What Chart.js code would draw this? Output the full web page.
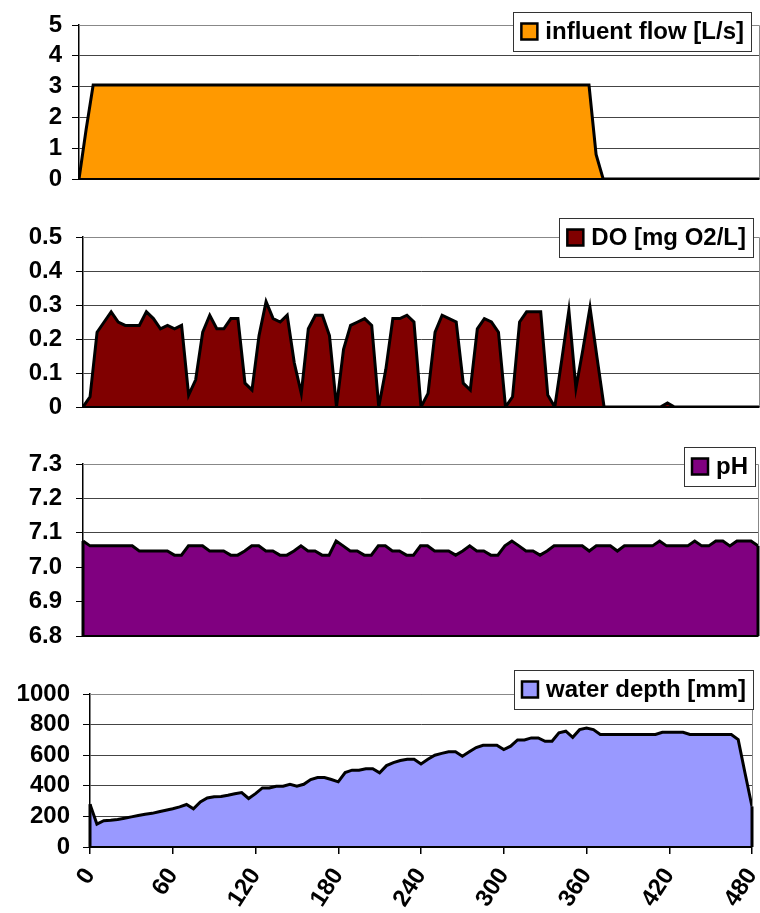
<!DOCTYPE html>
<html>
<head>
<meta charset="utf-8">
<script src="https://cdn.jsdelivr.net/npm/chart.js@4.4.1/dist/chart.umd.min.js"></script>
<style>
    body { margin: 0; background: #fff; }
    #wrap { position: relative; width: 760px; height: 913px; }
    canvas { position: absolute; left: 0; }
</style>
</head>
<body>
<div id="wrap">
    <canvas id="flowChart" width="760" height="205" style="top:0px"></canvas>
    <canvas id="doChart" width="760" height="225" style="top:205px"></canvas>
    <canvas id="phChart" width="760" height="230" style="top:430px"></canvas>
    <canvas id="depthChart" width="760" height="253" style="top:660px"></canvas>
</div>
<script>
// Time axis [min], one reading every 5 minutes
const times = [
    0, 5, 10, 15, 20, 25, 30, 35, 40, 45, 50, 55,
    60, 65, 70, 75, 80, 85, 90, 95, 100, 105, 110, 115,
    120, 125, 130, 135, 140, 145, 150, 155, 160, 165, 170, 175,
    180, 185, 190, 195, 200, 205, 210, 215, 220, 225, 230, 235,
    240, 245, 250, 255, 260, 265, 270, 275, 280, 285, 290, 295,
    300, 305, 310, 315, 320, 325, 330, 335, 340, 345, 350, 355,
    360, 365, 370, 375, 380, 385, 390, 395, 400, 405, 410, 415,
    420, 425, 430, 435, 440, 445, 450, 455, 460, 465, 470, 475,
    480
];
const timeTicks = [0, 60, 120, 180, 240, 300, 360, 420, 480];

// influent flow [L/s]
const flow = [
    0, 1.6, 3.05, 3.05, 3.05, 3.05, 3.05, 3.05, 3.05, 3.05, 3.05, 3.05,
    3.05, 3.05, 3.05, 3.05, 3.05, 3.05, 3.05, 3.05, 3.05, 3.05, 3.05, 3.05,
    3.05, 3.05, 3.05, 3.05, 3.05, 3.05, 3.05, 3.05, 3.05, 3.05, 3.05, 3.05,
    3.05, 3.05, 3.05, 3.05, 3.05, 3.05, 3.05, 3.05, 3.05, 3.05, 3.05, 3.05,
    3.05, 3.05, 3.05, 3.05, 3.05, 3.05, 3.05, 3.05, 3.05, 3.05, 3.05, 3.05,
    3.05, 3.05, 3.05, 3.05, 3.05, 3.05, 3.05, 3.05, 3.05, 3.05, 3.05, 3.05,
    3.05, 0.8, 0, 0, 0, 0, 0, 0, 0, 0, 0, 0,
    0, 0, 0, 0, 0, 0, 0, 0, 0, 0, 0, 0,
    0
];

// DO [mg O2/L]
const dissolvedOxygen = [
    0, 0.03, 0.22, 0.25, 0.28, 0.25, 0.24, 0.24, 0.24, 0.28, 0.26, 0.23,
    0.24, 0.23, 0.24, 0.035, 0.08, 0.22, 0.27, 0.23, 0.23, 0.26, 0.26, 0.07,
    0.05, 0.21, 0.31, 0.26, 0.25, 0.27, 0.13, 0.04, 0.23, 0.27, 0.27, 0.21,
    0, 0.17, 0.24, 0.25, 0.26, 0.24, 0, 0.11, 0.26, 0.26, 0.27, 0.25,
    0, 0.04, 0.22, 0.27, 0.26, 0.25, 0.07, 0.05, 0.23, 0.26, 0.25, 0.22,
    0, 0.03, 0.25, 0.28, 0.28, 0.28, 0.035, 0, 0.14, 0.285, 0.055, 0.17,
    0.293, 0.145, 0, 0, 0, 0, 0, 0, 0, 0, 0, 0.012,
    0, 0, 0, 0, 0, 0, 0, 0, 0, 0, 0, 0,
    0
];

// pH
const ph = [
    7.076, 7.062, 7.062, 7.062, 7.062, 7.062, 7.062, 7.062, 7.047, 7.047, 7.047, 7.047,
    7.047, 7.035, 7.035, 7.062, 7.062, 7.062, 7.047, 7.047, 7.047, 7.035, 7.035, 7.047,
    7.062, 7.062, 7.047, 7.047, 7.035, 7.035, 7.047, 7.062, 7.047, 7.047, 7.035, 7.035,
    7.076, 7.062, 7.047, 7.047, 7.035, 7.035, 7.062, 7.062, 7.047, 7.047, 7.035, 7.035,
    7.062, 7.062, 7.047, 7.047, 7.047, 7.035, 7.047, 7.062, 7.047, 7.047, 7.035, 7.035,
    7.062, 7.076, 7.062, 7.047, 7.047, 7.035, 7.047, 7.062, 7.062, 7.062, 7.062, 7.062,
    7.047, 7.062, 7.062, 7.062, 7.047, 7.062, 7.062, 7.062, 7.062, 7.062, 7.076, 7.062,
    7.062, 7.062, 7.062, 7.076, 7.062, 7.062, 7.076, 7.076, 7.062, 7.076, 7.076, 7.076,
    7.062
];

// water depth [mm]
const waterDepth = [
    280, 150, 172, 175, 180, 188, 197, 206, 214, 220, 230, 240,
    250, 262, 278, 250, 295, 320, 328, 330, 338, 348, 356, 317,
    349, 386, 386, 397, 397, 410, 397, 410, 441, 454, 454, 441,
    426, 487, 502, 502, 512, 512, 485, 532, 552, 565, 574, 574,
    543, 574, 600, 612, 622, 622, 593, 622, 650, 665, 665, 665,
    637, 659, 700, 700, 713, 713, 691, 691, 746, 757, 717, 767,
    778, 767, 735, 735, 735, 735, 735, 735, 735, 735, 735, 750,
    750, 750, 750, 735, 735, 735, 735, 735, 735, 735, 702, 480,
    265
];

Chart.defaults.font.family = '"Liberation Sans", Arial, sans-serif';
Chart.defaults.font.weight = 'bold';
Chart.defaults.font.size = 24;
Chart.defaults.color = '#000';

// Excel-like decorations: plot border, closed area edges and boxed legend
const panelDecor = {
    id: 'panelDecor',
    beforeDatasetsDraw(chart) {
        const { ctx, chartArea: a } = chart;
        ctx.save();
        ctx.strokeStyle = '#888';
        ctx.lineWidth = 1;
        ctx.beginPath();
        ctx.moveTo(a.left, Math.round(a.top) + 0.5);
        ctx.lineTo(Math.round(a.right) + 0.5, Math.round(a.top) + 0.5);
        ctx.lineTo(Math.round(a.right) + 0.5, a.bottom);
        ctx.stroke();
        ctx.restore();
    },
    afterDatasetsDraw(chart) {
        const { ctx, chartArea: a } = chart;
        const pts = chart.getDatasetMeta(0).data;
        ctx.save();
        ctx.strokeStyle = '#000';
        ctx.lineWidth = 3;
        [pts[0], pts[pts.length - 1]].forEach(p => {
            ctx.beginPath();
            ctx.moveTo(p.x, p.y);
            ctx.lineTo(p.x, a.bottom);
            ctx.stroke();
        });
        ctx.restore();
    },
    afterDraw(chart, args, opts) {
        const ctx = chart.ctx;
        const ds = chart.data.datasets[0];
        const h = 39;
        ctx.save();
        ctx.font = 'bold 24px "Liberation Sans", Arial, sans-serif';
        const tw = ctx.measureText(ds.label).width;
        const w = 6 + 18 + 8 + tw + 7;
        const x0 = opts.right - w;
        const y0 = opts.top;
        ctx.fillStyle = '#fff';
        ctx.fillRect(x0, y0, w, h);
        ctx.strokeStyle = '#333';
        ctx.lineWidth = 1;
        ctx.strokeRect(Math.round(x0) + 0.5, y0 + 0.5, Math.round(w), h);
        // swatch
        ctx.fillStyle = ds.backgroundColor;
        ctx.fillRect(x0 + 8, y0 + h / 2 - 8, 16, 16);
        ctx.lineWidth = 2.5;
        ctx.strokeStyle = '#000';
        ctx.strokeRect(x0 + 8, y0 + h / 2 - 8, 16, 16);
        ctx.fillStyle = '#000';
        ctx.textBaseline = 'middle';
        ctx.fillText(ds.label, x0 + 32, y0 + h / 2 + 1);
        ctx.restore();
    }
};

function makePanel(canvasId, p) {
    const canvasH = document.getElementById(canvasId).height;
    const points = times.map((t, i) => ({ x: t, y: p.values[i] }));

    return new Chart(document.getElementById(canvasId), {
        type: 'line',
        data: {
            datasets: [{
                label: p.label,
                data: points,
                backgroundColor: p.color,
                borderColor: '#000',
                borderWidth: 3,
                pointRadius: 0,
                tension: 0,
                fill: 'start'
            }]
        },
        plugins: [panelDecor],
        options: {
            responsive: false,
            animation: false,
            devicePixelRatio: 1,
            layout: {
                padding: { top: p.area.top, right: 760 - p.area.right, bottom: 0, left: 0 }
            },
            plugins: {
                legend: { display: false },
                tooltip: { enabled: false },
                panelDecor: p.legend
            },
            scales: {
                x: {
                    type: 'linear',
                    min: 0,
                    max: 480,
                    afterBuildTicks: s => {
                        s.ticks = timeTicks.map(v => ({ value: v }));
                    },
                    grid: {
                        display: p.showTime,
                        drawOnChartArea: false,
                        drawTicks: true,
                        tickLength: 7,
                        color: '#000',
                        lineWidth: 1.5
                    },
                    border: { display: true, color: '#000', width: 2, z: 1 },
                    ticks: {
                        display: p.showTime,
                        autoSkip: false,
                        minRotation: 57,
                        maxRotation: 57,
                        padding: 9,
                        font: { size: 24 }
                    },
                    afterFit: s => {
                        s.height = canvasH - p.area.bottom;
                        s.paddingLeft = 0;
                        s.paddingRight = 0;
                    }
                },
                y: {
                    min: p.yTicks[0],
                    max: p.yTicks[p.yTicks.length - 1],
                    afterBuildTicks: s => {
                        s.ticks = p.yTicks.map(v => ({ value: v }));
                    },
                    grid: {
                        color: '#444',
                        lineWidth: 1,
                        tickLength: 7,
                        tickColor: '#000'
                    },
                    border: { display: true, color: '#000', width: 1.5 },
                    ticks: {
                        autoSkip: false,
                        padding: p.tickPad,
                        callback: p.fmt
                    },
                    afterFit: s => {
                        s.width = p.area.left;
                        s.paddingTop = 0;
                        s.paddingBottom = 0;
                    }
                }
            }
        }
    });
}

makePanel('flowChart', {
    label: 'influent flow [L/s]',
    values: flow,
    color: '#ff9900',
    yTicks: [0, 1, 2, 3, 4, 5],
    fmt: v => String(v),
    area: { left: 79, right: 759, top: 25, bottom: 179 },
    tickPad: 10,
    showTime: false,
    legend: { right: 751, top: 12 }
});

makePanel('doChart', {
    label: 'DO [mg O2/L]',
    values: dissolvedOxygen,
    color: '#800000',
    yTicks: [0, 0.1, 0.2, 0.3, 0.4, 0.5],
    fmt: v => (v === 0 ? '0' : v.toFixed(1)),
    area: { left: 83, right: 759, top: 32, bottom: 202 },
    tickPad: 14,
    showTime: false,
    legend: { right: 753, top: 13 }
});

makePanel('phChart', {
    label: 'pH',
    values: ph,
    color: '#800080',
    yTicks: [6.8, 6.9, 7.0, 7.1, 7.2, 7.3],
    fmt: v => v.toFixed(1),
    area: { left: 83, right: 758, top: 34, bottom: 206 },
    tickPad: 14,
    showTime: false,
    legend: { right: 755, top: 17 }
});

makePanel('depthChart', {
    label: 'water depth [mm]',
    values: waterDepth,
    color: '#9999ff',
    yTicks: [0, 200, 400, 600, 800, 1000],
    fmt: v => String(v),
    area: { left: 90, right: 752, top: 34, bottom: 187 },
    tickPad: 13,
    showTime: true,
    legend: { right: 753, top: 10 }
});
</script>
</body>
</html>
